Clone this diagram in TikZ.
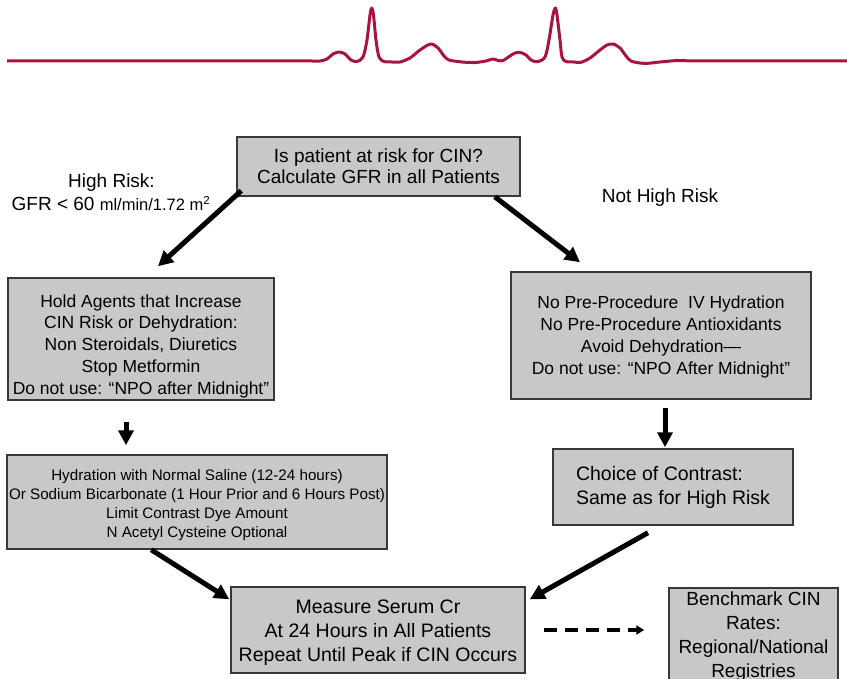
\documentclass[tikz,border=0pt]{standalone}
\usepackage{fontspec}
\setmainfont{Liberation Sans}
\usetikzlibrary{arrows.meta,calc}
\definecolor{boxfill}{RGB}{200,200,200}
\definecolor{boxline}{RGB}{55,55,55}
\definecolor{ecg}{RGB}{168,20,60}
\newcommand{\fs}[2]{\fontsize{#1}{#2}\selectfont}
\tikzset{
  box/.style={draw=boxline,fill=boxfill,line width=1.5pt,align=center,inner sep=2pt},
  flow/.style={line width=5pt,-{Triangle[length=15pt,width=15pt]}},
  dflow/.style={line width=4pt,dash pattern=on 13pt off 8pt,-{Triangle[length=8pt,width=9pt]}},
  lbl/.style={align=center,inner sep=0pt}
}
\begin{document}
\begin{tikzpicture}[x=1pt,y=-1pt]
\clip (0,0) rectangle (847,679);
\fill[white] (0,0) rectangle (847,679);
% ECG trace
\draw[ecg,line width=3pt,line join=round] (7,61) -- (312,61)
 plot[smooth,tension=0.5] coordinates {
(312,61)(320,61)(327,59)(333,54)(339,52)(345,54)(351,60)(357,61.5)(363,57)(367,40)(370,15)(371.7,8)(373.5,15)(376,40)(379,57)(384,61.5)(392,62)(400,62)(410,58)(420,50)(430.6,44)(438,48)(444,56)(449,60)(462,62)(475,62.5)(486,61)(492.7,59)(498,60.5)(503,60.5)(510,56)(515,53)(520.3,52.5)(526,55)(531,60)(537.5,61.7)(545,57)(549,40)(553,15)(555.4,8)(557,15)(560,40)(562,57)(566,61.5)(574,62)(581,62.3)(590,58)(600,50)(607,45)(613,44)(620,48)(626,56)(631,61)(640,63)(648,63.3)(660,62)(678,60.5)(690,61)}
 -- (847,61);
% boxes
\node[box,font=\fs{19}{21},minimum width=283,minimum height=59] (top) at (378.5,166.5)
  {Is patient at risk for CIN?\\Calculate GFR in all Patients};
\node[box,font=\fs{17.5}{21.75},minimum width=266,minimum height=122] (L1) at (141,339)
  {\rule{0pt}{27pt}Hold Agents that Increase\\CIN Risk or Dehydration:\\Non Steroidals, Diuretics\\Stop Metformin\\Do not use: “NPO after Midnight”};
\node[box,font=\fs{17.5}{22},minimum width=300,minimum height=127] (R1) at (661,335.5)
  {\rule{0pt}{16pt}No Pre-Procedure\ \ IV Hydration\\No Pre-Procedure Antioxidants\\Avoid Dehydration—\\Do not use: “NPO After Midnight”};
\node[box,font=\fs{15.2}{19},minimum width=380,minimum height=94] (L2) at (197,502)
  {\rule{0pt}{18pt}Hydration with Normal Saline (12-24 hours)\\Or Sodium Bicarbonate (1 Hour Prior and 6 Hours Post)\\Limit Contrast Dye Amount\\N Acetyl Cysteine Optional};
\node[box,font=\fs{19.5}{24},align=left,minimum width=240,minimum height=76] (R2) at (673,487)
  {Choice of Contrast:\\Same as for High Risk};
\node[box,font=\fs{19.5}{24},minimum width=294,minimum height=86] (bot) at (378,630)
  {\rule{0pt}{20pt}Measure Serum Cr\\At 24 Hours in All Patients\\Repeat Until Peak if CIN Occurs};
\node[box,font=\fs{19}{24},anchor=north,minimum width=169,inner ysep=4pt] (bench) at (753.5,587)
  {Benchmark CIN\\Rates:\\Regional/National\\Registries};
% labels
\node[lbl,font=\fs{19}{21}] (hr) at (111.5,183) {High Risk:};
\node[lbl,font=\fs{19}{21}] (gfr) at (111,203.5) {GFR < 60 {\fs{16.5}{18}ml/min/1.72 m\textsuperscript{2}}};
\node[lbl,font=\fs{19}{21}] (nhr) at (660,198) {Not High Risk};
% connectors
\draw[flow] ($(top.south west)+(5,-6)$) -- ($(L1.north)+(17,-11)$);
\draw[flow] ($(top.south east)+(-26,0)$) -- ($(R1.north)+(-81,-9)$);
\draw[flow] ($(L1.south)+(-15,21)$) -- ($(L2.north)+(-71,-9)$);
\draw[flow] ($(R1.south)+(4,8)$) -- ($(R2.north)+(-8,-1)$);
\draw[flow] ($(L2.south west)+(145,0)$) -- ($(bot.north west)+(-1,13)$);
\draw[flow] ($(R2.south)+(-25,7)$) -- ($(bot.north east)+(4,13)$);
\draw[dflow] ($(bot.east)+(18,0)$) -- ($(bench.north west)+(-24,43)$);
\end{tikzpicture}
\end{document}
